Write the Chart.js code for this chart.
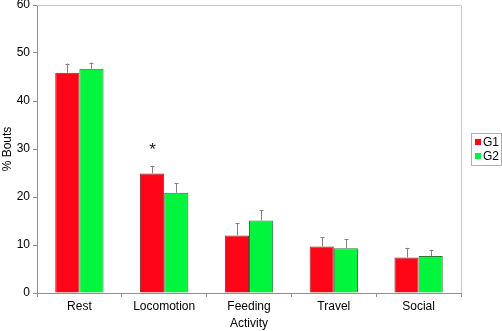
<!DOCTYPE html>
<html>
<head>
<meta charset="utf-8">
<script src="https://cdn.jsdelivr.net/npm/chart.js@4"></script>
<style>
  html, body { margin: 0; padding: 0; background: #fff; }
  #wrap { width: 502px; height: 331px; }
</style>
</head>
<body>
<div id="wrap"><canvas id="grafico" width="502" height="331"></canvas></div>
<script>
// Dados
const atividades = ['Rest', 'Locomotion', 'Feeding', 'Travel', 'Social'];
const valoresG1 = [45.9, 24.9, 12.0, 9.7, 7.4];
const valoresG2 = [46.7, 20.9, 15.1, 9.3, 7.7];
const erroG1 = [1.9, 1.6, 2.5, 1.9, 2.0];
const erroG2 = [1.3, 2.0, 2.2, 1.9, 1.3];
const marcasG1 = ['', '*', '', '', ''];
const ticksY = [0, 10, 20, 30, 40, 50, 60];

const fonte = 'Liberation Sans, Arial, sans-serif';

// Barras de erro (apenas para cima) e asterisco
const pluginErros = {
    id: 'erros',
    afterDatasetsDraw(chart) {
        const ctx = chart.ctx;
        const y = chart.scales.y;
        const erros = [erroG1, erroG2];
        ctx.save();
        chart.data.datasets.forEach((ds, i) => {
            const meta = chart.getDatasetMeta(i);
            meta.data.forEach((barra, j) => {
                const topo = y.getPixelForValue(ds.data[j] + erros[i][j]);
                ctx.strokeStyle = '#808080';
                ctx.lineWidth = 1;
                ctx.beginPath();
                ctx.moveTo(Math.round(barra.x) + 0.5, barra.y);
                ctx.lineTo(Math.round(barra.x) + 0.5, topo);
                ctx.moveTo(Math.round(barra.x) - 1.5, Math.round(topo) + 0.5);
                ctx.lineTo(Math.round(barra.x) + 2.5, Math.round(topo) + 0.5);
                ctx.stroke();
                if (i === 0 && marcasG1[j]) {
                    ctx.fillStyle = '#222';
                    ctx.font = '17px ' + fonte;
                    ctx.textAlign = 'center';
                    ctx.textBaseline = 'middle';
                    ctx.fillText(marcasG1[j], barra.x + 0.5, topo - 15);
                }
            });
        });
        ctx.restore();
    }
};

// Moldura da área do gráfico e legenda
const pluginMoldura = {
    id: 'moldura',
    afterDraw(chart) {
        const ctx = chart.ctx;
        const a = chart.chartArea;
        ctx.save();
        ctx.strokeStyle = '#c8c8c8';
        ctx.lineWidth = 1;
        ctx.beginPath();
        ctx.moveTo(a.left, Math.round(a.top) + 0.5);
        ctx.lineTo(Math.round(a.right) + 0.5, Math.round(a.top) + 0.5);
        ctx.lineTo(Math.round(a.right) + 0.5, a.bottom);
        ctx.stroke();

        // legenda
        const lx = 471, ly = 133;
        ctx.strokeStyle = '#b0b0b0';
        ctx.strokeRect(lx + 0.5, ly + 0.5, 30, 32);
        ctx.font = '12px ' + fonte;
        ctx.textBaseline = 'middle';
        ctx.textAlign = 'left';
        chart.data.datasets.forEach((ds, i) => {
            const yy = ly + 9 + i * 14;
            ctx.fillStyle = ds.backgroundColor;
            ctx.fillRect(lx + 4, yy - 3, 6, 6);
            ctx.fillStyle = '#000';
            ctx.fillText(ds.label, lx + 12, yy + 1);
        });
        ctx.restore();
    }
};

const grafico = new Chart(document.getElementById('grafico'), {
    type: 'bar',
    data: {
        labels: atividades,
        datasets: [{
            label: 'G1',
            data: valoresG1,
            backgroundColor: '#ff0518',
            borderColor: '#8a2a2a',
            borderWidth: 1,
            borderSkipped: 'bottom'
        }, {
            label: 'G2',
            data: valoresG2,
            backgroundColor: '#00f53c',
            borderColor: '#2a7a3a',
            borderWidth: 1,
            borderSkipped: 'bottom'
        }]
    },
    options: {
        responsive: false,
        animation: false,
        categoryPercentage: 0.57,
        barPercentage: 1.0,
        layout: { padding: { top: 0, right: 41, left: 0, bottom: 0 } },
        plugins: {
            legend: { display: false },
            tooltip: { enabled: false }
        },
        scales: {
            x: {
                afterFit: s => { s.height = 38; },
                grid: { display: true, drawOnChartArea: false, offset: true, tickLength: 4, color: '#909090' },
                border: { color: '#909090' },
                ticks: { color: '#000', font: { family: fonte, size: 12 }, padding: 2 },
                title: { display: true, text: 'Activity', color: '#000', font: { family: fonte, size: 12 }, padding: 0 }
            },
            y: {
                min: 0,
                max: 60,
                afterFit: s => { s.width = 37; s.paddingTop = 5; s.paddingBottom = 0; },
                afterBuildTicks: s => { s.ticks = ticksY.map(v => ({ value: v })); },
                grid: { display: true, drawOnChartArea: false, tickLength: 4, color: '#909090' },
                border: { color: '#909090' },
                ticks: { color: '#000', font: { family: fonte, size: 12 }, padding: 3 },
                title: { display: true, text: '% Bouts', color: '#000', font: { family: fonte, size: 12 }, padding: 0 }
            }
        }
    },
    plugins: [pluginErros, pluginMoldura]
});
</script>
</body>
</html>
